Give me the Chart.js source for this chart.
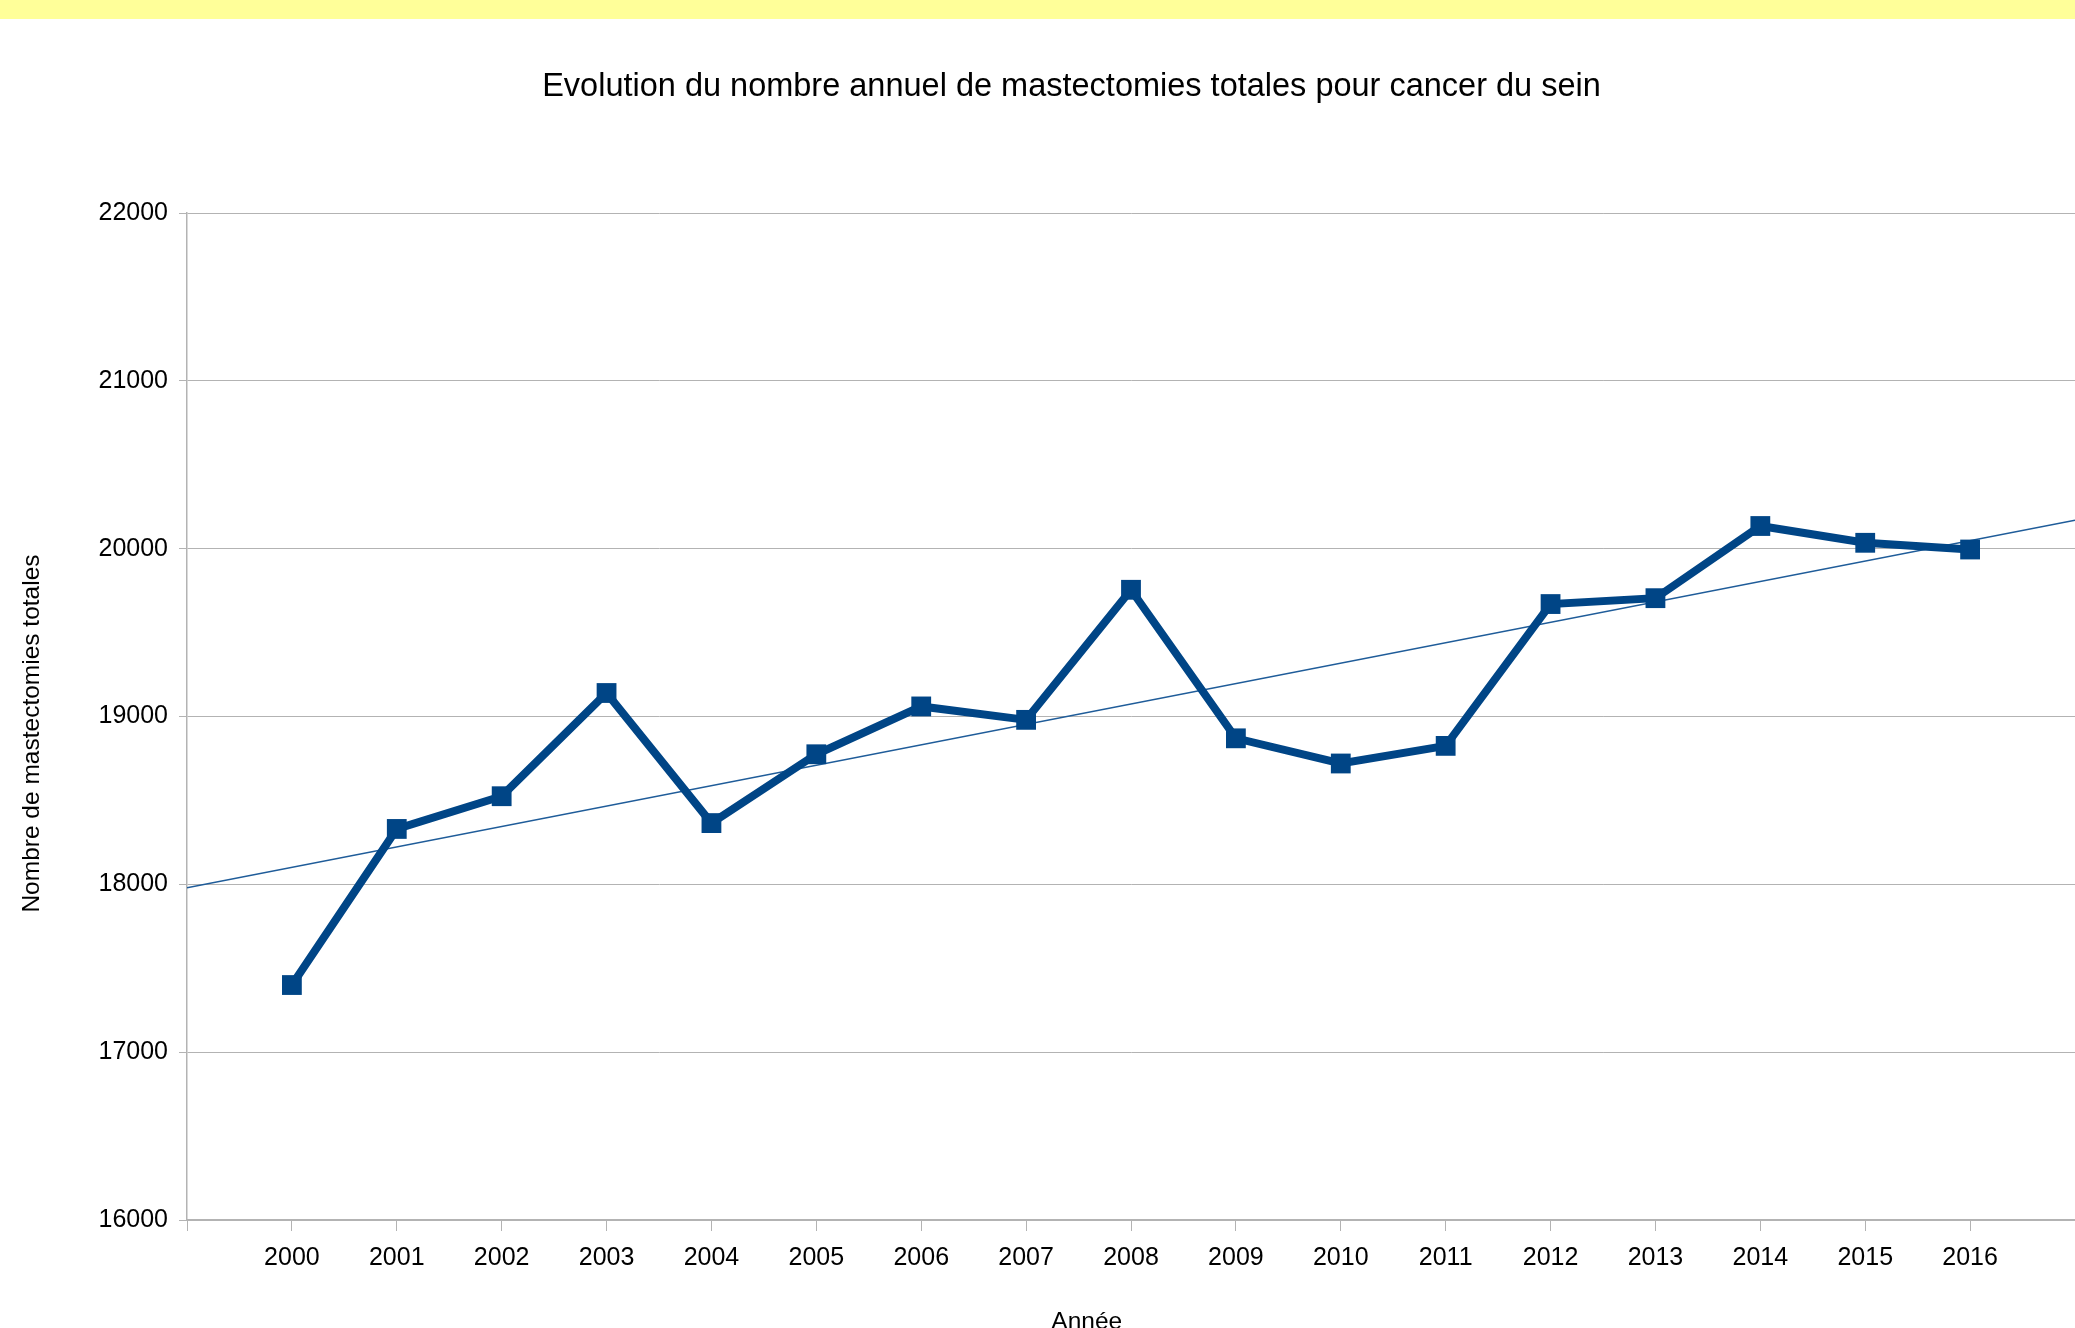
<!DOCTYPE html>
<html lang="fr">
<head>
<meta charset="utf-8">
<title>Mastectomies totales</title>
<script src="https://cdn.jsdelivr.net/npm/chart.js@4.4.1/dist/chart.umd.min.js"></script>
<style>
  body { margin: 0; background: #fff; overflow: hidden; }
  .band { height: 19px; background: #ffff99; }
  .wrap { position: relative; width: 2075px; height: 1340px; }
</style>
</head>
<body>
<div class="band"></div>
<div class="wrap"><canvas id="chart"></canvas></div>
<script>
// valeurs
const years = [2000, 2001, 2002, 2003, 2004, 2005, 2006, 2007, 2008,
               2009, 2010, 2011, 2012, 2013, 2014, 2015, 2016];
const mastectomies = [17400, 18330, 18525, 19140, 18365, 18775, 19060, 18980, 19755,
                      18870, 18720, 18825, 19670, 19705, 20135, 20035, 19995];
// droite de tendance (extrémités lues aux bords du graphique)
const trendYears = [1999, 2017];
const trendValues = [17980, 20170];
const yTicks = [16000, 17000, 18000, 19000, 20000, 21000, 22000];

const blue = '#004586';
const gridGrey = '#b3b3b3';
const font = 'Liberation Sans, Arial, sans-serif';

const ctx = document.querySelector('#chart');

const lineData = years.map((year, i) => ({ x: year, y: mastectomies[i] }));
const trendData = trendYears.map((year, i) => ({ x: year, y: trendValues[i] }));

new Chart(ctx, {
    type: 'line',
    data: {
        datasets: [
            {
                label: 'Mastectomies totales',
                data: lineData,
                borderColor: blue,
                backgroundColor: blue,
                borderWidth: 8,
                pointStyle: 'rect',
                pointRadius: 14,
                pointBorderWidth: 0,
                tension: 0,
                order: 0
            },
            {
                label: 'Tendance',
                data: trendData,
                borderColor: '#1f5c99',
                borderWidth: 1.5,
                pointRadius: 0,
                tension: 0,
                order: 1
            }
        ]
    },
    options: {
        responsive: true,
        maintainAspectRatio: false,
        animation: false,
        layout: {
            autoPadding: false,
            padding: { left: 68, right: 0, top: 0, bottom: 0 }
        },
        plugins: {
            legend: { display: false },
            tooltip: { enabled: false },
            title: {
                display: true,
                text: 'Evolution du nombre annuel de mastectomies totales pour cancer du sein',
                color: '#000',
                font: { family: font, size: 32.5, weight: 'normal' },
                padding: { top: 49, bottom: 106 }
            }
        },
        scales: {
            x: {
                type: 'linear',
                min: 1999,
                max: 2017,
                afterFit: (scale) => {
                    scale.height = 139;
                    scale.paddingLeft = 0;
                    scale.paddingRight = 0;
                },
                ticks: {
                    stepSize: 1,
                    color: '#000',
                    padding: 12,
                    font: { family: font, size: 25 },
                    callback: (value) => (value === 1999 || value === 2017) ? '' : String(value)
                },
                grid: {
                    drawOnChartArea: false,
                    drawTicks: true,
                    tickLength: 11,
                    color: gridGrey
                },
                border: { color: gridGrey, width: 2 },
                title: {
                    display: true,
                    text: 'Année             ',
                    color: '#000',
                    font: { family: font, size: 24.5 },
                    padding: { top: 0, bottom: 22 }
                }
            },
            y: {
                min: 16000,
                max: 22000,
                afterFit: (scale) => { scale.width = 119; },
                afterBuildTicks: (scale) => { scale.ticks = yTicks.map((v) => ({ value: v })); },
                ticks: {
                    color: '#000',
                    padding: 11,
                    font: { family: font, size: 25 },
                    callback: (value) => String(value)
                },
                grid: {
                    color: gridGrey,
                    tickLength: 8
                },
                border: { color: gridGrey, width: 1.5 },
                title: {
                    display: true,
                    text: 'Nombre de mastectomies totales     ',
                    color: '#000',
                    font: { family: font, size: 24.5 },
                    padding: { top: -50, bottom: 0 }
                }
            }
        }
    }
});
</script>
</body>
</html>
